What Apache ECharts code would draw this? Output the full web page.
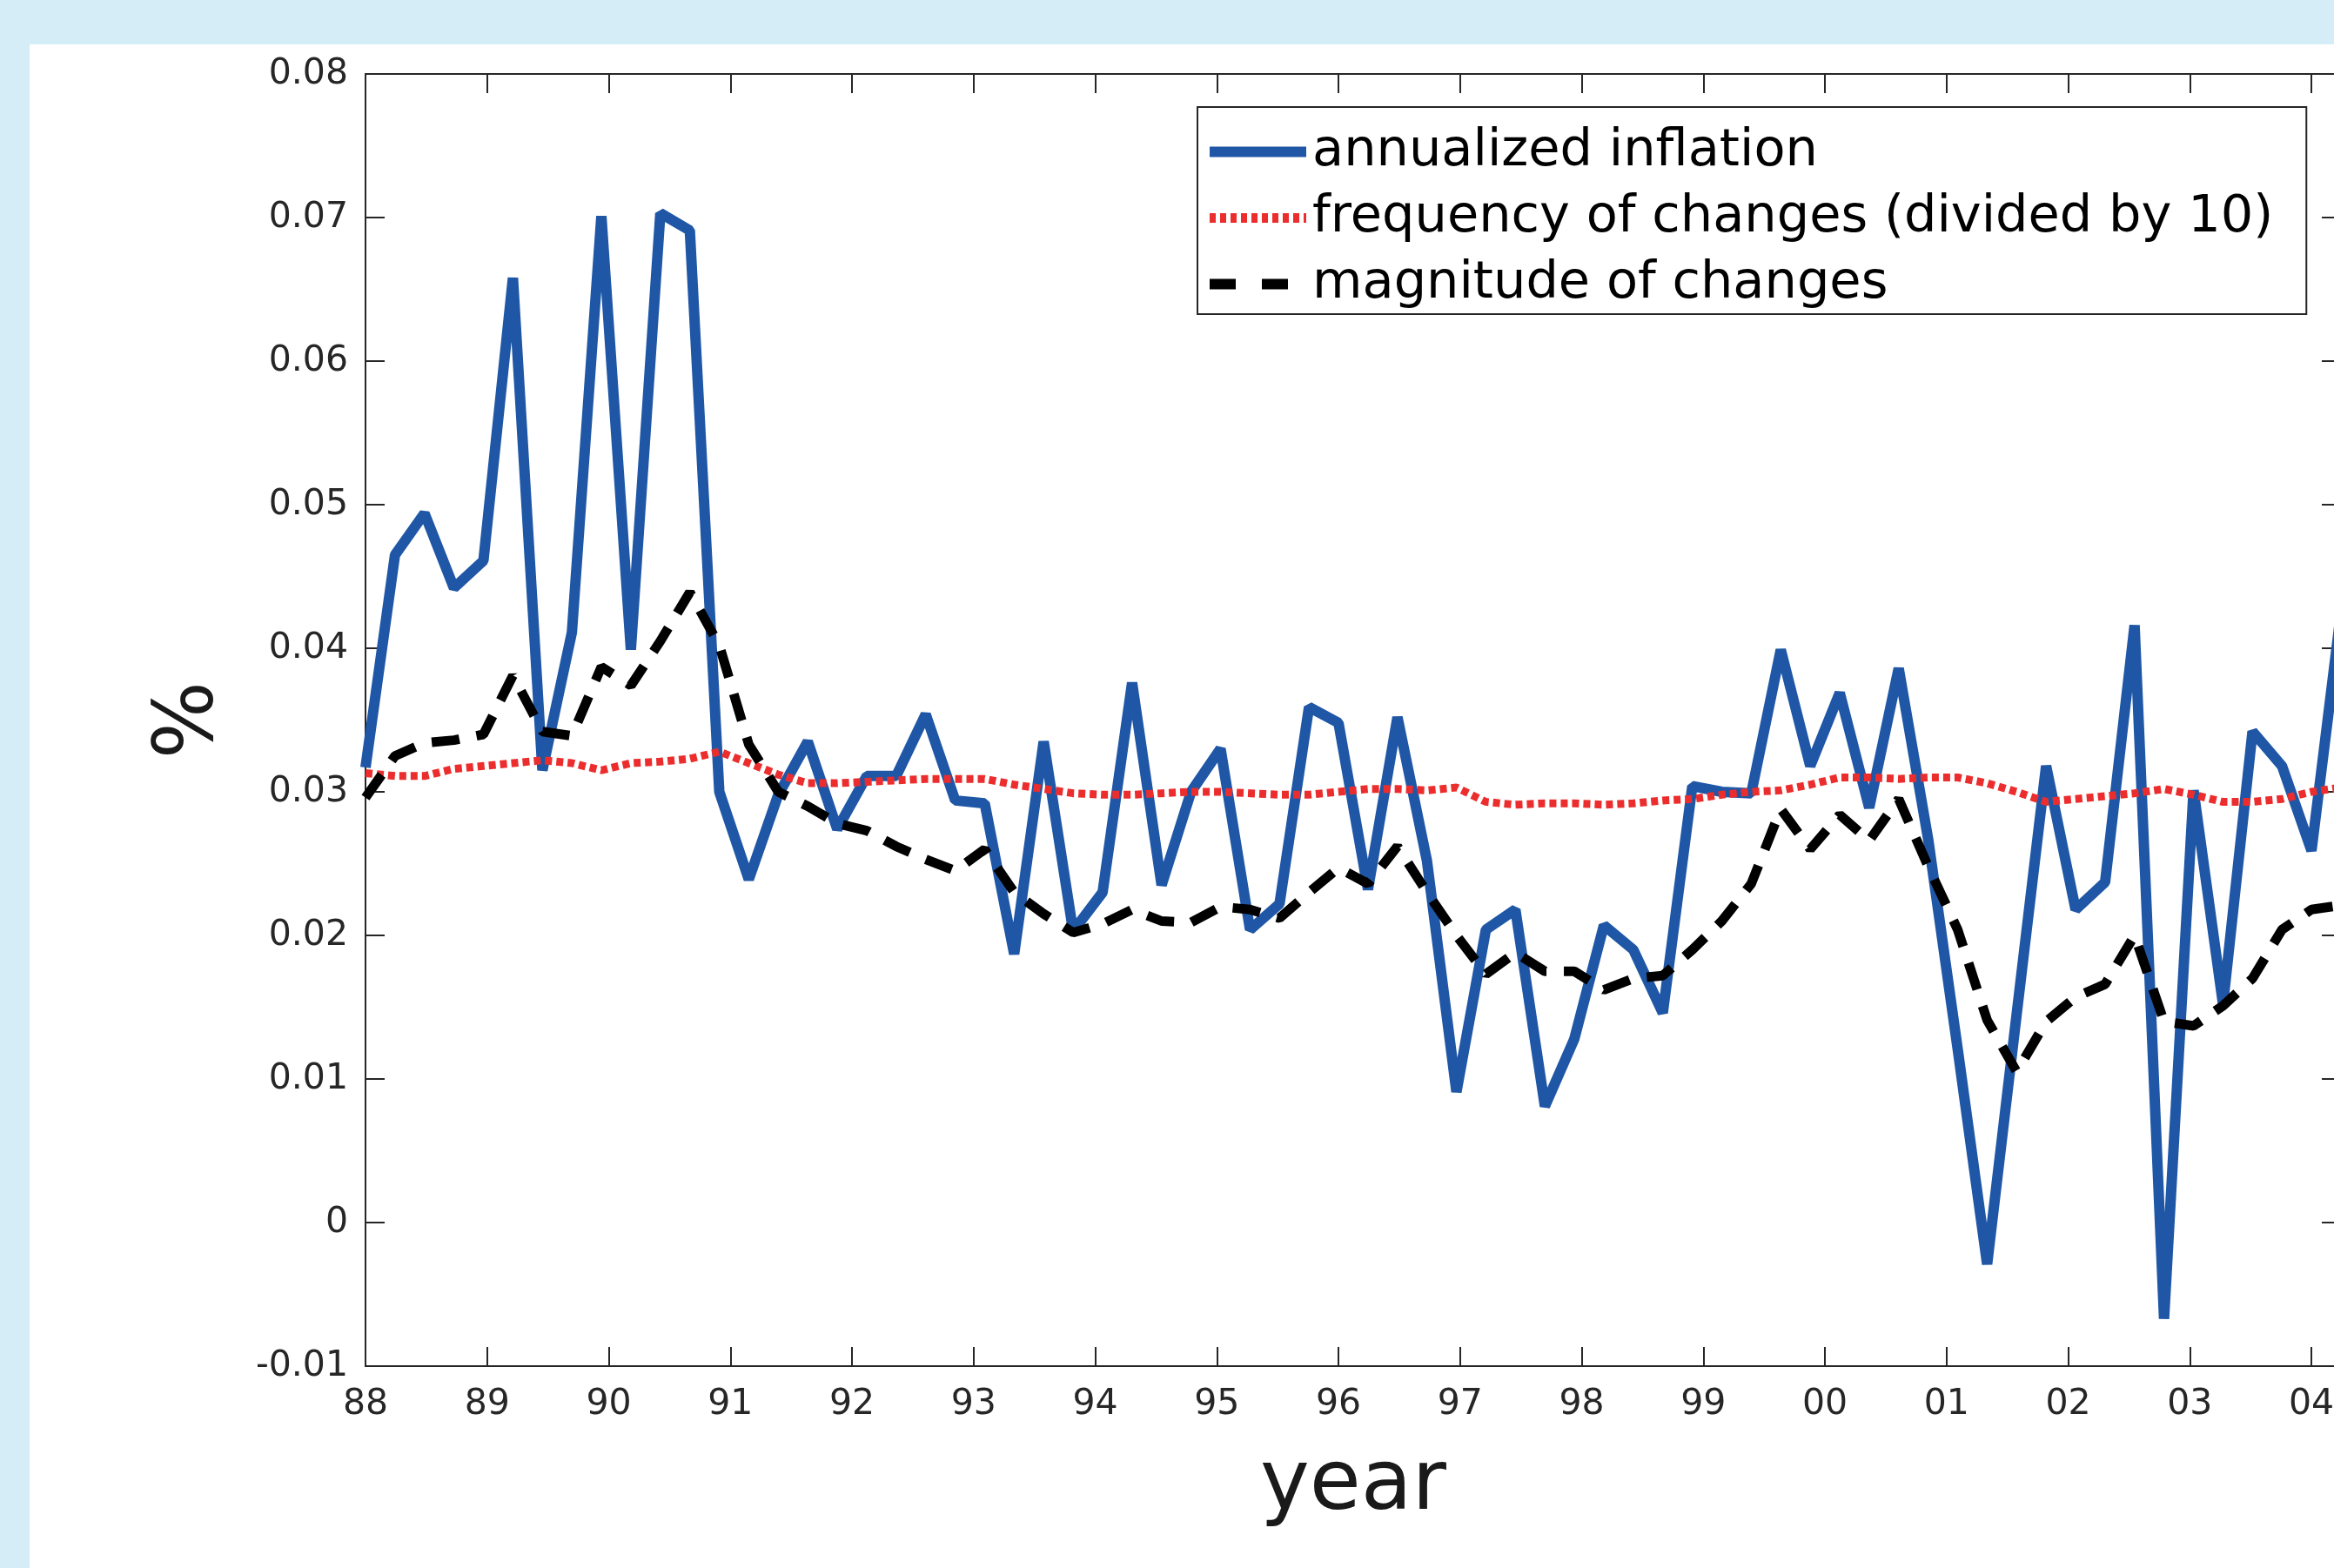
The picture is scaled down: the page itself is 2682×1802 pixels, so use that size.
<!DOCTYPE html>
<html lang="en">
  <head>
    <meta charset="UTF-8" />
    <title>inflation, frequency and magnitude of changes</title>
    <script src="https://cdn.jsdelivr.net/npm/echarts@6/dist/echarts.min.js"></script>
    <style>
      html, body { margin: 0; padding: 0; overflow: hidden; background: #d5edf7; }
      #main { position: absolute; left: 34px; top: 51px; width: 2706px; height: 1751px; background: #fff; }
    </style>
  </head>

  <body>
    <div id="main"></div>
    <script type="text/javascript">
      // tick labels, one per year, placed every 66/16 observations
      var yearLabels = ["88", "89", "90", "91", "92", "93", "94", "95", "96",
                        "97", "98", "99", "00", "01", "02", "03", "04"];
      var tickStep = 66 / 16;

      var inflation = [
        0.0317, 0.0465, 0.0494, 0.0442, 0.0461, 0.0658, 0.0315, 0.0411, 0.0701, 0.0399,
        0.0703, 0.0691, 0.0300, 0.0239, 0.0298, 0.0335, 0.0274, 0.0311, 0.0311, 0.0354,
        0.0294, 0.0292, 0.0187, 0.0335, 0.0203, 0.0230, 0.0376, 0.0235, 0.0300, 0.0330,
        0.0204, 0.0222, 0.0359, 0.0348, 0.0232, 0.0352, 0.0252, 0.0091, 0.0204, 0.0218,
        0.0081, 0.0128, 0.0207, 0.0190, 0.0146, 0.0304, 0.0300, 0.0299, 0.0399, 0.0318,
        0.0369, 0.0289, 0.0386, 0.0267, 0.0121, -0.0029, 0.0145, 0.0318, 0.0218, 0.0237,
        0.0416, -0.0067, 0.0301, 0.0152, 0.0342, 0.0318, 0.0259, 0.0425
      ];

      var frequency = [
        0.0313, 0.0311, 0.0311, 0.0316, 0.0318, 0.0320, 0.0322, 0.0320, 0.0315, 0.0320,
        0.0321, 0.0323, 0.0328, 0.0320, 0.0312, 0.0306, 0.0306, 0.0307, 0.0308, 0.0309,
        0.0309, 0.0309, 0.0305, 0.0302, 0.0299, 0.0298, 0.0298, 0.0299, 0.0300, 0.0300,
        0.0299, 0.0298, 0.0298, 0.0300, 0.0302, 0.0302, 0.0301, 0.0303, 0.0293, 0.0291,
        0.0292, 0.0292, 0.0291, 0.0292, 0.0294, 0.0295, 0.0298, 0.0300, 0.0301, 0.0305,
        0.0310, 0.0310, 0.0309, 0.0310, 0.0310, 0.0306, 0.0300, 0.0293, 0.0295, 0.0297,
        0.0299, 0.0302, 0.0298, 0.0293, 0.0293, 0.0295, 0.0300, 0.0303
      ];

      var magnitude = [
        0.0296, 0.0325, 0.0334, 0.0336, 0.0340, 0.0381, 0.0342, 0.0339, 0.0387, 0.0374,
        0.0405, 0.0439, 0.0402, 0.0333, 0.0300, 0.0290, 0.0278, 0.0273, 0.0262, 0.0253,
        0.0245, 0.0260, 0.0230, 0.0215, 0.0202, 0.0208, 0.0218, 0.0210, 0.0209, 0.0220,
        0.0218, 0.0212, 0.0230, 0.0247, 0.0236, 0.0262, 0.0230, 0.0200, 0.0173, 0.0188,
        0.0175, 0.0175, 0.0162, 0.0170, 0.0172, 0.0190, 0.0210, 0.0236, 0.0288, 0.0260,
        0.0284, 0.0266, 0.0295, 0.0248, 0.0204, 0.0141, 0.0105, 0.0140, 0.0157, 0.0166,
        0.0200, 0.0140, 0.0137, 0.0151, 0.0170, 0.0204, 0.0218, 0.0221
      ];

      var names = [
        "annualized inflation",
        "frequency of changes (divided by 10)",
        "magnitude of changes",
      ];

      var FONT = "DejaVu Sans";
      var AXIS = "#262626";
      var BLUE = "#1f57a6";
      var RED = "#ec2d2d";

      function pairs(arr) {
        return arr.map(function (v, i) { return [i, v]; });
      }

      function yearLabel(v) {
        var k = v / tickStep;
        var r = Math.round(k);
        return Math.abs(k - r) < 1e-6 && yearLabels[r] ? yearLabels[r] : "";
      }

      var chartDom = document.getElementById("main");
      var myChart = echarts.init(chartDom);

      var lineOfAxis = { show: true, onZero: false, lineStyle: { color: AXIS, width: 2 } };
      var tickOfAxis = { show: true, inside: true, length: 22, lineStyle: { color: AXIS, width: 2 } };

      var xCommon = {
        type: "value",
        min: 0,
        max: inflation.length - 1,
        interval: tickStep,
        axisLine: lineOfAxis,
        axisTick: tickOfAxis,
        splitLine: { show: false },
      };
      var yCommon = {
        type: "value",
        min: -0.01,
        max: 0.08,
        interval: 0.01,
        axisLine: lineOfAxis,
        axisTick: tickOfAxis,
        splitLine: { show: false },
      };

      var option = {
        animation: false,
        backgroundColor: "#fff",
        textStyle: { fontFamily: FONT },
        grid: {
          left: 386,
          top: 34,
          right: 50,
          bottom: 232,
          containLabel: false,
          outerBoundsMode: "none",
        },
        legend: {
          orient: "vertical",
          left: 1342,
          top: 72,
          itemWidth: 111,
          itemHeight: 14,
          itemGap: 17,
          padding: [22, 38, 5, 8],
          borderColor: AXIS,
          borderWidth: 2,
          backgroundColor: "#fff",
          textStyle: { fontFamily: FONT, fontSize: 59, color: "#000", padding: [0, 0, 0, 2] },
          data: [
            { name: names[0], lineStyle: { width: 12, type: "solid" }, itemStyle: { opacity: 0 } },
            { name: names[1], lineStyle: { width: 11, type: [7, 5] }, itemStyle: { opacity: 0 } },
            { name: names[2], lineStyle: { width: 12, type: [30, 30] }, itemStyle: { opacity: 0 } },
          ],
        },
        xAxis: [
          Object.assign({}, xCommon, {
            position: "bottom",
            name: "year",
            nameLocation: "middle",
            nameGap: 91,
            nameTextStyle: { fontFamily: FONT, fontSize: 96, color: "#1a1a1a" },
            axisLabel: {
              show: true,
              margin: 24,
              fontFamily: FONT,
              fontSize: 41,
              color: AXIS,
              formatter: yearLabel,
            },
          }),
          Object.assign({}, xCommon, {
            position: "top",
            axisLabel: { show: false },
          }),
        ],
        yAxis: [
          Object.assign({}, yCommon, {
            position: "left",
            name: "%",
            nameLocation: "middle",
            nameGap: 153,
            nameTextStyle: { fontFamily: FONT, fontSize: 94, color: "#1a1a1a" },
            axisLabel: {
              show: true,
              margin: 20,
              fontFamily: FONT,
              fontSize: 41,
              color: AXIS,
            },
          }),
          Object.assign({}, yCommon, {
            position: "right",
            axisLabel: { show: false },
          }),
        ],
        series: [
          {
            name: names[0],
            type: "line",
            xAxisIndex: 0,
            yAxisIndex: 0,
            data: pairs(inflation),
            symbol: "none",
            lineStyle: { color: BLUE, width: 12, join: "bevel" },
            itemStyle: { color: BLUE },
          },
          {
            name: names[1],
            type: "line",
            xAxisIndex: 0,
            yAxisIndex: 0,
            data: pairs(frequency),
            symbol: "none",
            lineStyle: { color: RED, width: 9, type: [8, 5] },
            itemStyle: { color: RED },
          },
          {
            name: names[2],
            type: "line",
            xAxisIndex: 0,
            yAxisIndex: 0,
            data: pairs(magnitude),
            symbol: "none",
            lineStyle: { color: "#000", width: 11, type: [32, 20] },
            itemStyle: { color: "#000" },
          },
        ],
      };

      myChart.setOption(option);
    </script>
  </body>
</html>
